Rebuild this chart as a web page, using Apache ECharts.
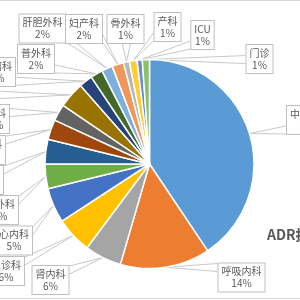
<!DOCTYPE html>
<html><head><meta charset="utf-8">
<script src="https://cdn.jsdelivr.net/npm/echarts@6/dist/echarts.min.js"></script>
<style>html,body{margin:0;padding:0;background:#fff}#c{width:300px;height:300px}</style>
</head><body><div id="c"></div>
<script>
// ---- data ----
const categories = ['中医内科','呼吸内科','肾内科','急诊科','心内科','胸外科','消化内科','神经内科','儿科','内分泌科','肿瘤科','普外科','肝胆外科','妇产科','骨外科','产科','ICU','门诊'];
const values = [40.6,13.9,5.7,5.6,5.4,3.8,3.8,3.1,2.6,4.0,2.1,1.9,1.7,1.8,0.9,1.2,0.8,1.1];
const titleText = 'ADR报告科室分布';

// ---- styling / layout ----
const colors = ['#5B9BD5','#ED7D31','#A5A5A5','#FFC000','#4472C4','#70AD47','#255E91','#9E480E','#636363','#997300','#264478','#43682B','#7CAFDD','#F1975A','#B7B7B7','#FFCD33','#698ED0','#8CC168'];
const labelCenters = [[310,120],[241.5,277.5],[50.5,280],[6,271],[14,240.5],[0,210],[-20,180],[-18,150],[-4,119],[-30,92],[-3,72],[36,59],[42.5,28.5],[84,29],[125.5,29],[167.5,27],[202.5,35],[259.5,59]];
const FONT = '"Noto Sans CJK SC", "Noto Sans", sans-serif';

function wedge(tip, rect) {
  const l = rect.x, r = rect.x + rect.width, t = rect.y, b = rect.y + rect.height;
  const hw = 4;
  const cl = (v, a, z) => Math.max(a, Math.min(z, v));
  let p1, p2;
  if (tip[0] < l) { const yc = cl(tip[1], t + hw + 1, b - hw - 1); p1 = [l, yc - hw]; p2 = [l, yc + hw]; }
  else if (tip[0] > r) { const yc = cl(tip[1], t + hw + 1, b - hw - 1); p1 = [r, yc - hw]; p2 = [r, yc + hw]; }
  else if (tip[1] > b) { const xc = cl(tip[0], l + hw + 1, r - hw - 1); p1 = [xc - hw, b]; p2 = [xc + hw, b]; }
  else { const xc = cl(tip[0], l + hw + 1, r - hw - 1); p1 = [xc - hw, t]; p2 = [xc + hw, t]; }
  return [p1, tip, p2];
}

const chart = echarts.init(document.getElementById('c'), null, {renderer: 'canvas'});
chart.setOption({
  animation: false,
  color: colors,
  title: {
    text: titleText, left: 262, top: 223,
    textStyle: {fontSize: 14, fontWeight: 'bold', color: '#595959', fontFamily: FONT}
  },
  graphic: [
    {type: 'line', shape: {x1: 0, y1: 0.5, x2: 300, y2: 0.5}, style: {stroke: '#d9d9d9', lineWidth: 1}, silent: true},
    {type: 'line', shape: {x1: 0, y1: 298.5, x2: 300, y2: 298.5}, style: {stroke: '#d9d9d9', lineWidth: 1}, silent: true}
  ],
  series: [{
    type: 'pie',
    center: [149.5, 164],
    radius: 104.5,
    startAngle: 90,
    clockwise: true,
    avoidLabelOverlap: false,
    minShowLabelAngle: 0,
    itemStyle: {borderColor: '#fff', borderWidth: 1.5},
    label: {
      show: true, position: 'outer', alignTo: 'none', bleedMargin: -400,
      overflow: 'none',
      formatter: p => p.name + '\n' + Math.round(p.percent) + '%',
      color: '#595959', fontSize: 10, lineHeight: 12, fontFamily: FONT,
      align: 'center',
      backgroundColor: '#fff', borderColor: '#bfbfbf', borderWidth: 1, padding: [2, 3]
    },
    labelLine: {show: true, length: 5, length2: 5, smooth: false, lineStyle: {color: '#c8c8c8', width: 1}},
    labelLayout: function (params) {
      const c = labelCenters[params.dataIndex];
      const w = params.labelRect.width, h = params.labelRect.height;
      const rect = {x: c[0] - w / 2, y: c[1] - h / 2, width: w, height: h};
      const res = {x: c[0], y: c[1], align: 'center', verticalAlign: 'middle'};
      if (params.labelLinePoints) res.labelLinePoints = wedge(params.labelLinePoints[0], rect);
      return res;
    },
    emphasis: {disabled: true},
    data: categories.map((n, i) => ({name: n, value: values[i]}))
  }]
});
</script>
</body></html>
